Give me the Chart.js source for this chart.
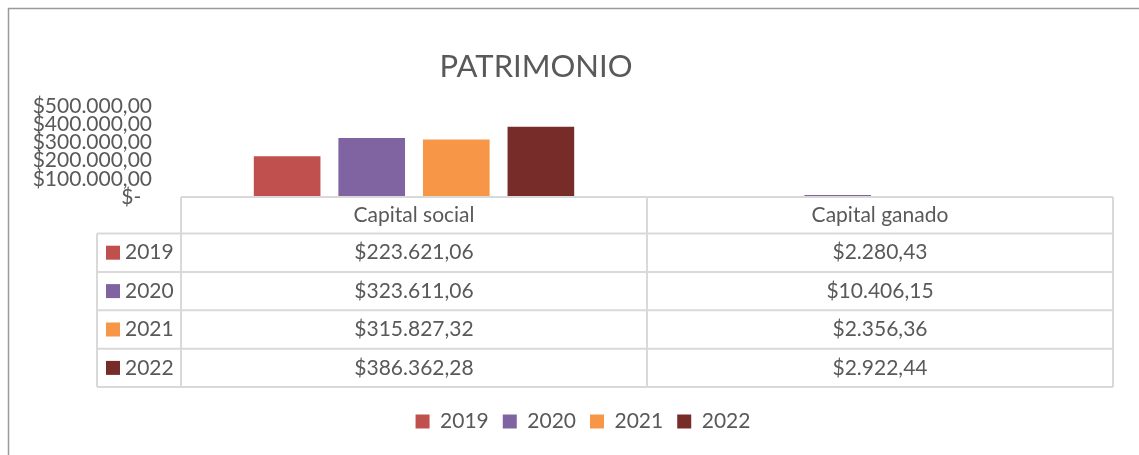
<!DOCTYPE html>
<html>
<head>
<meta charset="utf-8">
<script src="https://cdn.jsdelivr.net/npm/chart.js@4"></script>
<style>
  html, body { margin: 0; padding: 0; background: #fff; }
  #wrap { width: 1139px; height: 455px; }
</style>
</head>
<body>
<div id="wrap"><canvas id="patrimonioCanvas" width="1139" height="455"></canvas></div>
<script>
// chart data
const categories = ['Capital social', 'Capital ganado'];
const years = ['2019', '2020', '2021', '2022'];
const values2019 = [223621.06, 2280.43];
const values2020 = [323611.06, 10406.15];
const values2021 = [315827.32, 2356.36];
const values2022 = [386362.28, 2922.44];
const yMax = 500000;
const yStep = 100000;

const seriesValues = [values2019, values2020, values2021, values2022];
const seriesColors = ['#C0504D', '#8064A2', '#F79646', '#772C2A'];
const textColor = '#595959';
const fontName = 'Lato';

// spanish money format: $223.621,06
function money(v) {
    const parts = v.toFixed(2).split('.');
    const ent = parts[0].replace(/\B(?=(\d{3})+(?!\d))/g, '.');
    return '$' + ent + ',' + parts[1];
}

// outer frame + title, and nudge the legend so it sits like the original
const framePlugin = {
    id: 'frame',
    afterLayout(chart) {
        chart.legend.left = 53;
    },
    beforeDraw(chart) {
        const c = chart.ctx;
        c.save();
        c.strokeStyle = '#9a9a9a';
        c.lineWidth = 1.5;
        c.beginPath();
        c.moveTo(8.5, chart.height);
        c.lineTo(8.5, 8.5);
        c.lineTo(chart.width, 8.5);
        c.stroke();
        c.fillStyle = textColor;
        c.font = '31px ' + fontName;
        c.textAlign = 'center';
        c.textBaseline = 'middle';
        c.fillText('PATRIMONIO', 536, 67);
        c.restore();
    }
};

// data table under the bars, columns follow the x scale
const tablePlugin = {
    id: 'dataTable',
    afterDraw(chart) {
        const c = chart.ctx;
        const xs = chart.scales.x;
        const left = xs.left;
        const right = xs.right;
        const catW = (right - left) / categories.length;
        const top = chart.chartArea.bottom;
        const headH = 36.5;
        const rowH = 38.4;
        const keyLeft = 97;
        const bottom = top + headH + rowH * years.length;

        c.save();
        c.strokeStyle = '#d9d9d9';
        c.lineWidth = 2;
        c.beginPath();
        c.moveTo(left, top); c.lineTo(right, top);
        for (let r = 0; r <= years.length; r++) {
            const y = top + headH + rowH * r;
            c.moveTo(keyLeft, y); c.lineTo(right, y);
        }
        for (let i = 0; i <= categories.length; i++) {
            const x = left + catW * i;
            c.moveTo(x, top); c.lineTo(x, bottom);
        }
        c.moveTo(keyLeft, top + headH); c.lineTo(keyLeft, bottom);
        c.stroke();

        c.fillStyle = textColor;
        c.font = '21px ' + fontName;
        c.textBaseline = 'middle';
        c.textAlign = 'center';
        categories.forEach((cat, i) => {
            c.fillText(cat, xs.getPixelForValue(i), top + headH / 2);
        });
        years.forEach((yr, r) => {
            const cy = top + headH + rowH * r + rowH / 2;
            c.fillStyle = seriesColors[r];
            c.fillRect(106, cy - 7, 14, 14);
            c.fillStyle = textColor;
            c.textAlign = 'left';
            c.fillText(yr, 125, cy);
            c.textAlign = 'center';
            seriesValues[r].forEach((v, i) => {
                c.fillText(money(v), xs.getPixelForValue(i), cy);
            });
        });
        c.restore();
    }
};

const ctx = document.getElementById('patrimonioCanvas').getContext('2d');

const myChart = new Chart(ctx, {
    type: 'bar',
    data: {
        labels: categories,
        datasets: years.map((yr, i) => ({
            label: yr,
            data: seriesValues[i],
            backgroundColor: seriesColors[i],
            borderWidth: 0,
            categoryPercentage: 0.726,
            barPercentage: 0.788
        }))
    },
    options: {
        responsive: false,
        animation: false,
        layout: {
            padding: { left: 15, right: 26, top: 106, bottom: 13 }
        },
        scales: {
            x: {
                grid: { display: false, drawTicks: false },
                border: { display: false },
                ticks: { display: false },
                afterFit(scale) { scale.height = 200; }
            },
            y: {
                min: 0,
                max: yMax,
                grid: { display: false, drawTicks: false },
                border: { display: false },
                ticks: {
                    stepSize: yStep,
                    autoSkip: false,
                    padding: 29,
                    color: textColor,
                    font: { family: fontName, size: 21 },
                    callback: v => v === 0 ? '$-  ' : money(v)
                },
                afterFit(scale) { scale.width = 166; }
            }
        },
        plugins: {
            title: { display: false },
            tooltip: { enabled: false },
            legend: {
                display: true,
                position: 'bottom',
                labels: {
                    boxWidth: 14,
                    boxHeight: 14,
                    padding: 14,
                    color: textColor,
                    font: { family: fontName, size: 21 }
                }
            }
        }
    },
    plugins: [framePlugin, tablePlugin]
});
</script>
</body>
</html>
